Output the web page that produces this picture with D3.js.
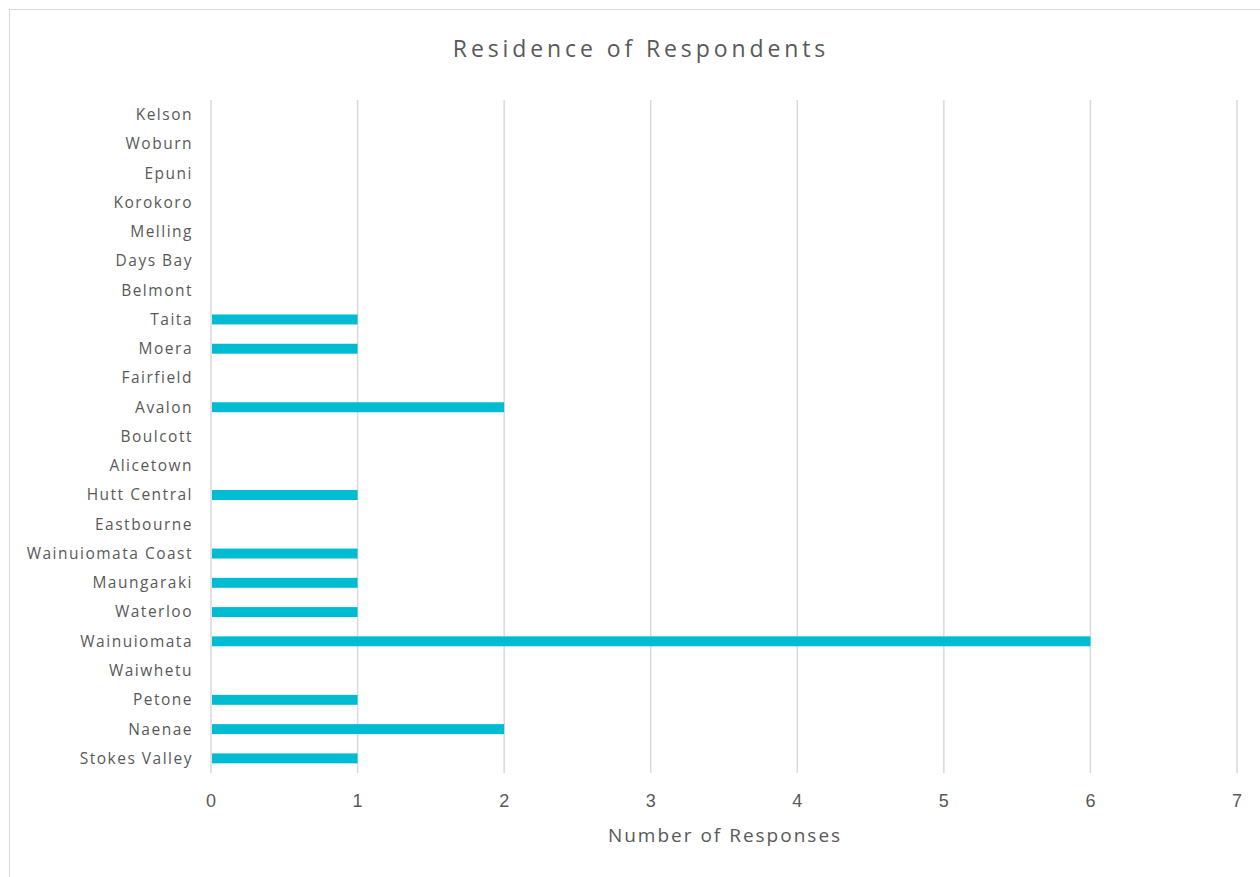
<!DOCTYPE html>
<html>
<head>
<meta charset="utf-8">
<script src="https://cdn.jsdelivr.net/npm/d3@7"></script>
<style>
  body { margin: 0; background: #fff; }
  svg { display: block; }
  .cat-label { font-family: "Open Sans", sans-serif; font-size: 15.5px; letter-spacing: 1.5px; fill: #595959; }
  .tick-label { font-family: "Liberation Sans", Arial, sans-serif; font-size: 18px; fill: #595959; }
  .title { font-family: "Open Sans", sans-serif; font-size: 23px; letter-spacing: 3.9px; fill: #595959; }
  .axis-title { font-family: "Open Sans", sans-serif; font-size: 19px; letter-spacing: 2px; fill: #595959; }
</style>
</head>
<body>
<svg width="1260" height="877"></svg>
<script>
// categories top to bottom, as shown
const suburbs = ["Kelson", "Woburn", "Epuni", "Korokoro", "Melling", "Days Bay", "Belmont",
  "Taita", "Moera", "Fairfield", "Avalon", "Boulcott", "Alicetown", "Hutt Central",
  "Eastbourne", "Wainuiomata Coast", "Maungaraki", "Waterloo", "Wainuiomata",
  "Waiwhetu", "Petone", "Naenae", "Stokes Valley"]
const responses = [0, 0, 0, 0, 0, 0, 0,
  1, 1, 0, 2, 0, 0, 1,
  0, 1, 1, 1, 6,
  0, 1, 2, 1]
const xTicks = [0, 1, 2, 3, 4, 5, 6, 7]

const data = suburbs.map((s, i) => ({name: s, value: responses[i]}))

const svg = d3.select('svg')
const margin = {left: 211, right: 23, top: 100, bottom: 104}
const width = 1260
const height = 877

// chart frame (cut off on right and bottom like the screenshot)
svg.append('rect')
  .attr('x', 9.5).attr('y', 9.5)
  .attr('width', 1300).attr('height', 900)
  .attr('fill', 'none')
  .attr('stroke', '#d9d9d9')

const x = d3.scaleLinear()
  .domain([0, 7])
  .range([margin.left, width - margin.right])

const y = d3.scaleBand()
  .domain(suburbs)
  .range([margin.top, height - margin.bottom])
  .paddingInner(0.66)
  .paddingOuter(0.33)

const y0 = margin.top
const y1 = height - margin.bottom

svg.append('g')
  .selectAll('line')
  .data(xTicks).enter()
  .append('line')
  .attr('x1', d => x(d)).attr('x2', d => x(d))
  .attr('y1', y0).attr('y2', y1)
  .attr('stroke', '#d9d9d9')
  .attr('stroke-width', 1.5)

svg.append('g')
  .selectAll('rect')
  .data(data.filter(d => d.value > 0)).enter()
  .append('rect')
  .attr('x', x(0) + 1)
  .attr('y', d => y(d.name))
  .attr('width', d => x(d.value) - x(0) - 1)
  .attr('height', y.bandwidth())
  .attr('fill', '#00bcd2')

// letter-spacing adds trailing space after the last glyph, so pull labels right a bit
svg.append('g')
  .selectAll('text')
  .data(suburbs).enter()
  .append('text')
  .attr('class', 'cat-label')
  .attr('x', x(0) - 18)
  .attr('y', d => y(d) + y.bandwidth() / 2)
  .attr('dy', '0.35em')
  .attr('text-anchor', 'end')
  .text(d => d)

svg.append('g')
  .selectAll('text')
  .data(xTicks).enter()
  .append('text')
  .attr('class', 'tick-label')
  .attr('x', d => x(d))
  .attr('y', 807)
  .attr('text-anchor', 'middle')
  .text(d => d)

svg.append('text')
  .attr('class', 'axis-title')
  .attr('x', (x(0) + x(7)) / 2 + 1)
  .attr('y', 842)
  .attr('text-anchor', 'middle')
  .text('Number of Responses')

svg.append('text')
  .attr('class', 'title')
  .attr('x', 641)
  .attr('y', 57)
  .attr('text-anchor', 'middle')
  .text('Residence of Respondents')
</script>
</body>
</html>
